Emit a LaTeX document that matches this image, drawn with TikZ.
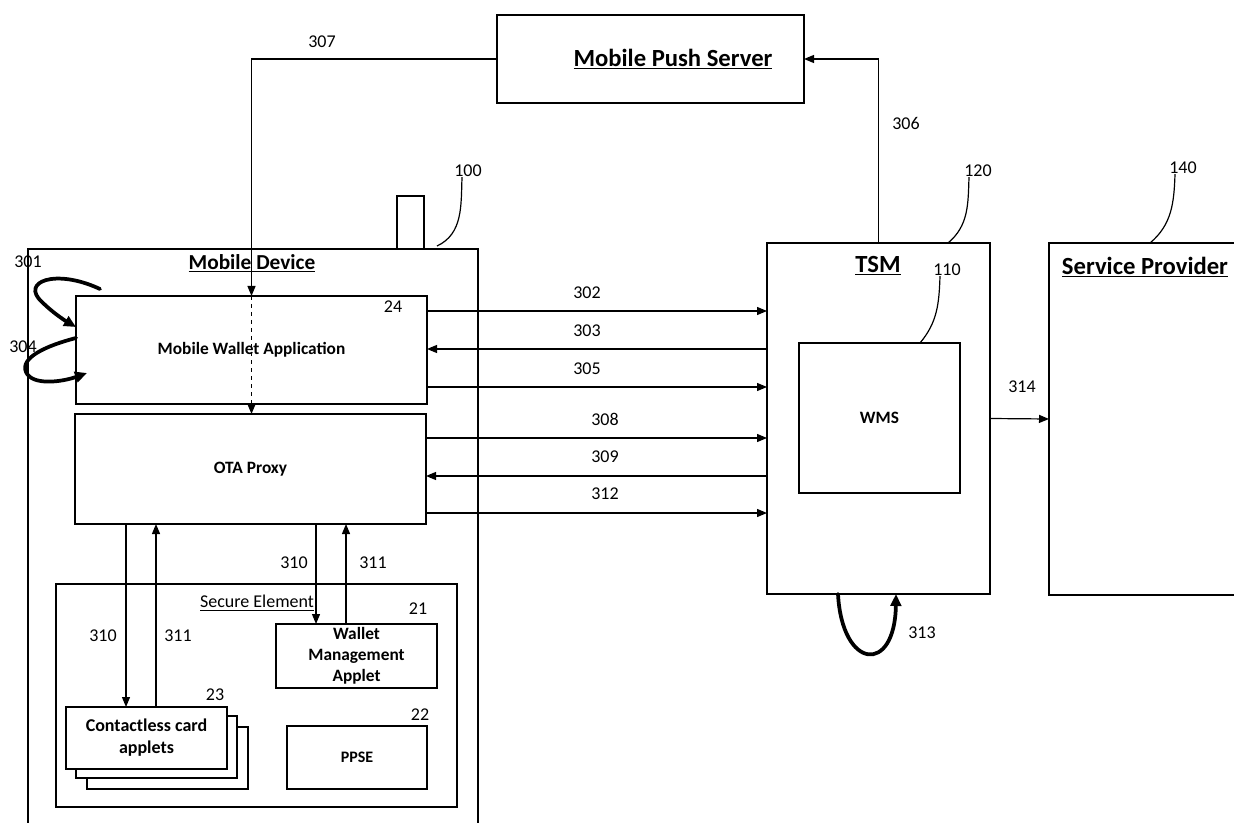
\documentclass[tikz,border=0pt]{standalone}
\usepackage{fontspec}
\setmainfont{Carlito}
\usetikzlibrary{arrows.meta}
\tikzset{
  box/.style={draw, line width=0.9pt, inner sep=0pt, outer sep=0pt, align=center},
  arr/.style={line width=0.9pt, -{Triangle[length=7.5pt,width=6pt]}},
  swirl/.style={line width=2.8pt, line cap=round, -{Triangle[length=9pt,width=8pt]}},
  leader/.style={line width=0.9pt},
  num/.style={font=\fontsize{13.5}{15}\selectfont, inner sep=0pt},
  head/.style={font=\fontsize{18.5}{22}\selectfont\bfseries, inner sep=0pt},
  inbox/.style={font=\fontsize{13}{15.75}\selectfont\bfseries}
}
\begin{document}
\begin{tikzpicture}[x=0.75pt,y=-0.75pt]
  \useasboundingbox (0,0) rectangle (1234,823);
  % Push server
  \node[box, minimum width=230.25pt, minimum height=66pt] (push) at (650.5,59) {};
  \node[head] (pushtitle) at (673,59) {\underline{Mobile Push Server}};
  % Mobile device
  \node[box, minimum width=337.5pt, minimum height=435.75pt] (md) at (253,539.5) {};
  \node[box, minimum width=20.25pt, minimum height=39.75pt] (antenna) at (410.5,222.5) {};
  \node[font=\fontsize{16}{19}\selectfont\bfseries, inner sep=0pt] (mdtitle) at (252,263) {\underline{Mobile Device}};
  \node[box, inbox, minimum width=263.25pt, minimum height=81pt] (mwa) at (251.5,350) {Mobile Wallet Application};
  \node[box, inbox, minimum width=263.25pt, minimum height=82.5pt] (ota) at (250.5,469) {OTA Proxy};
  % Secure element
  \node[box, minimum width=300.75pt, minimum height=167.25pt] (se) at (256.5,695.5) {};
  \node[font=\fontsize{13.5}{16}\selectfont, inner sep=0pt] (setitle) at (257,603) {\underline{Secure Element}};
  \node[box, inbox, minimum width=120.75pt, minimum height=48pt] (wmapp) at (356.5,656) {Wallet\\Management\\Applet};
  \node[box, fill=white, minimum width=120.75pt, minimum height=46.5pt] (card3) at (167.5,758) {};
  \node[box, fill=white, minimum width=120.75pt, minimum height=46.5pt] (card2) at (156.5,747) {};
  \node[box, inbox, fill=white, minimum width=120.75pt, minimum height=46.5pt, font=\fontsize{13.5}{16.5}\selectfont\bfseries] (card1) at (146.5,738) {Contactless card\\applets};
  \node[box, inbox, minimum width=105pt, minimum height=47.25pt, font=\fontsize{12}{14}\selectfont\bfseries] (ppse) at (357,757.5) {PPSE};
  % TSM and service provider
  \node[box, minimum width=167.25pt, minimum height=263.25pt] (tsm) at (878.5,418.5) {};
  \node[head] (tsmtitle) at (878,266) {\underline{TSM}};
  \node[box, inbox, minimum width=120.75pt, minimum height=112.5pt] (wms) at (879.5,418) {WMS};
  \node[box, minimum width=150.75pt, minimum height=264pt] (sp) at (1149.5,419) {};
  \node[head] (sptitle) at (1145,267) {\underline{Service Provider}};

  % reference numbers
  \node[num] (n100) at (468,171) {100};
  \node[num] (n120) at (978,171) {120};
  \node[num] (n140) at (1183,168) {140};
  \node[num] (n110) at (947,270) {110};
  \node[num] (n24) at (393,307) {24};
  \node[num] (n21) at (418,609) {21};
  \node[num] (n22) at (420,715) {22};
  \node[num] (n23) at (215,695) {23};
  \draw[leader] (md.north -| 437,0) ++(0,-3) to[out=25,in=-92] (n100.south -| 462,0);
  \draw[leader] (tsm.north -| 948,0) to[out=40,in=-92] (n120.south -| 969,0);
  \draw[leader] (sp.north -| 1150,0) to[out=40,in=-92] (n140.south -| 1175,0);
  \draw[leader] (wms.north -| 920,0) to[out=50,in=-92] (n110.south -| 940,0);

  % push notification
  \draw[arr] (push.west) -| (mwa.north);
  \draw[arr, dashed] (mwa.north) -- (mwa.north |- ota.north);
  \node[num] (l307) at (322,42) {307};
  \draw[arr] (tsm.north) |- (push.east);
  \node[num] (l306) at (906,123) {306};

  % wallet <-> TSM
  \foreach \y/\lab in {311/302, 387/305}{
    \draw[arr] (mwa.east |- 0,\y) -- (tsm.west |- 0,\y);
    \node[num] (l\lab) at (587,\y-18) {\lab};
  }
  \draw[arr] (tsm.west |- 0,349) -- (mwa.east |- 0,349);
  \node[num] (l303) at (587,331) {303};
  % OTA proxy <-> TSM
  \foreach \y/\lab in {438/308, 513/312}{
    \draw[arr] (ota.east |- 0,\y) -- (tsm.west |- 0,\y);
    \node[num] (l\lab) at (605,\y-19) {\lab};
  }
  \draw[arr] (tsm.west |- 0,476) -- (ota.east |- 0,476);
  \node[num] (l309) at (605,457) {309};

  % OTA proxy <-> applets
  \draw[arr] (ota.south -| 126,0) -- (card1.north -| 126,0);
  \draw[arr] (card1.north -| 156,0) -- (ota.south -| 156,0);
  \draw[arr] (ota.south -| 316,0) -- (wmapp.north -| 316,0);
  \draw[arr] (wmapp.north -| 346,0) -- (ota.south -| 346,0);
  \node[num] (l310a) at (103,636) {310};
  \node[num] (l311a) at (178,636) {311};
  \node[num] (l310b) at (294,563) {310};
  \node[num] (l311b) at (373,563) {311};

  % TSM -> service provider
  \draw[arr] (tsm.east) -- (sp.west);
  \node[num] (l314) at (1022,387) {314};

  % local loops
  \draw[swirl] (100,289) .. controls (55,268) and (20,282) .. (42,302)
    .. controls (52,312) and (64,320) .. (mwa.west |- 0,327);
  \draw[swirl] (mwa.west |- 0,338) .. controls (45,346) and (20,358) .. (26,372)
    .. controls (32,386) and (62,382) .. (87,373);
  \node[num] (l301) at (28,262) {301};
  \node[num] (l304) at (23,347) {304};
  \draw[swirl] (tsm.south -| 838,0) .. controls (842,670) and (895,675) .. (tsm.south -| 896,0);
  \node[num] (l313) at (922,633) {313};
\end{tikzpicture}
\end{document}
